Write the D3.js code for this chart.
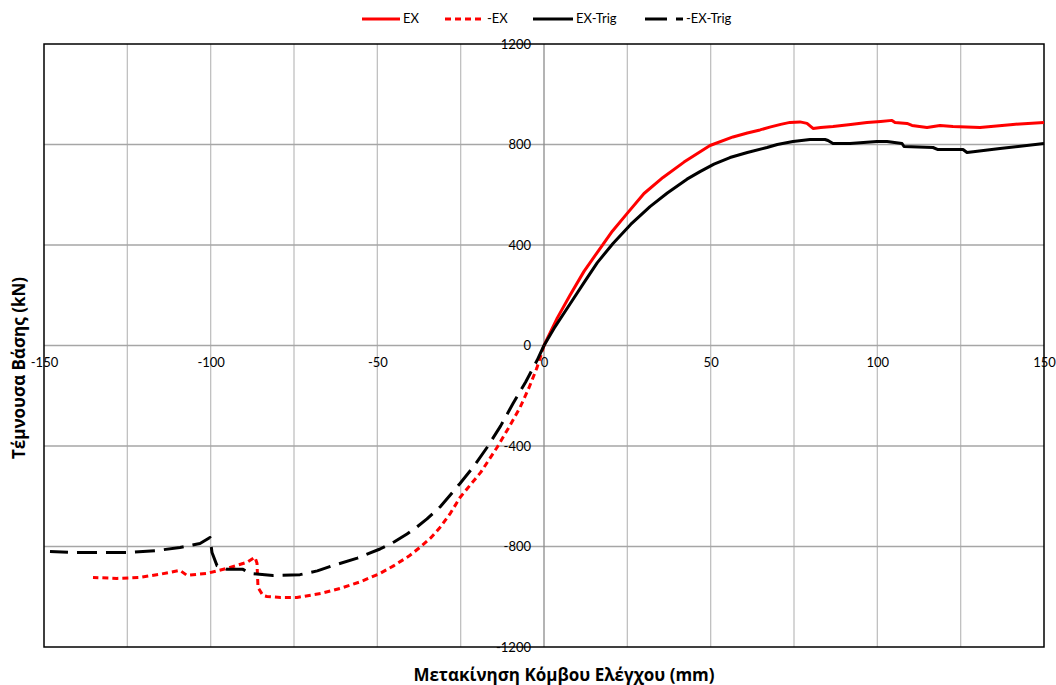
<!DOCTYPE html>
<html><head><meta charset="utf-8">
<script src="https://cdn.jsdelivr.net/npm/d3@7"></script>
<style>body{margin:0;background:#fff}svg{display:block}</style>
</head><body>
<svg id="c" width="1056" height="685"></svg>
<script>
// data (displacement mm, base shear kN)
const exX = [0,2,4,7.8,12,16.8,20.5,24.9,30,35.7,42,49.8,56.7,61,64.8,68,71,73.8,76.8,78.9,80.7,83,86.7,92,96.9,101,104.4,105.3,108.9,110.4,114.9,118.8,122.7,130.8,140.7,150];
const exY = [0,55,110,200,295,386,455,525,605,669,730,796,830,846,858,870,880,888,890,884,864,868,872,880,888,892,896,888,884,876,868,876,872,868,880,888];
const negExX = [0,-2.1,-4.5,-7.2,-10.5,-14.1,-19,-25.2,-28,-31.2,-34,-37.2,-40.5,-45,-49.2,-55,-61.2,-67,-74.1,-79,-83.1,-84.3,-85.8,-86.1,-86.7,-89.1,-95.1,-101.1,-107.1,-109.2,-115,-121.2,-128.1,-135.3];
const negExY = [0,-88,-168,-247,-325,-406,-505,-605,-666,-724,-766,-803,-838,-876,-907,-940,-967,-987,-1003,-1003,-999,-995,-963,-867,-843,-863,-887,-907,-915,-895,-910,-923,-927,-923];
const trigX = [0,3,7.8,12,16,20.7,26,31.8,37,42.9,46.8,51,55.8,61,66.9,70,74.7,79.8,84.3,85.2,86.7,91.8,99.9,102.9,107.4,108,116.7,118.2,125.7,126.9,136.8,150];
const trigY = [0,68,165,250,330,406,482,553,607,662,692,722,748,768,788,800,812,820,820,816,804,804,812,812,804,792,788,780,780,768,784,804];
const negTrigX = [0,-2.1,-5.5,-9.3,-13,-17.1,-21,-25.2,-31,-35.1,-38.1,-41.1,-45,-49.2,-56,-63.3,-68,-73.2,-81.3,-88.2,-90.3,-95.1,-98.1,-99.6,-100.2,-103.2,-109.2,-116.1,-125.1,-133.2,-141.3,-148.2];
const negTrigY = [0,-60,-145,-231,-320,-406,-480,-549,-640,-690,-722,-750,-782,-810,-846,-876,-897,-912,-915,-907,-891,-891,-876,-824,-764,-788,-804,-816,-824,-824,-824,-820];
const xTicks = [-150,-100,-50,0,50,100,150];
const yTicks = [-1200,-800,-400,0,400,800,1200];
const xGrid = [-125,-100,-75,-50,-25,25,50,75,100,125];
const yGrid = [-800,-400,400,800];
const seriesNames = ["EX","-EX","EX-Trig","-EX-Trig"];

const svg = d3.select("#c");
const L=44, R=1044, T=44, B=647;
const x = d3.scaleLinear().domain([-150,150]).range([L,R]);
const y = d3.scaleLinear().domain([-1200,1200]).range([B,T]);
const font = "Lato, Open Sans, sans-serif";
const tfont = "Open Sans, Liberation Sans, sans-serif";

// grid
svg.append("g").selectAll("line").data(xGrid).join("line")
  .attr("x1",d=>x(d)).attr("x2",d=>x(d)).attr("y1",T).attr("y2",B)
  .attr("stroke","#c0c0c0").attr("stroke-width",1.3);
svg.append("g").selectAll("line").data(yGrid).join("line")
  .attr("y1",d=>y(d)).attr("y2",d=>y(d)).attr("x1",L).attr("x2",R)
  .attr("stroke","#a6a6a6").attr("stroke-width",1.3);
// zero axes
svg.append("line").attr("x1",x(0)).attr("x2",x(0)).attr("y1",T).attr("y2",B).attr("stroke","#8c8c8c").attr("stroke-width",1.3);
svg.append("line").attr("x1",L).attr("x2",R).attr("y1",y(0)).attr("y2",y(0)).attr("stroke","#a6a6a6").attr("stroke-width",1.3);

const xa = svg.append("g").attr("transform",`translate(0,${y(0)})`)
  .call(d3.axisBottom(x).tickValues(xTicks).tickSize(0).tickPadding(12).tickFormat(d=>String(d)));
xa.select(".domain").remove();
xa.selectAll("text").attr("font-family",font).attr("font-size",13).attr("fill","#000");
const ya = svg.append("g").attr("transform",`translate(${x(0)},0)`)
  .call(d3.axisLeft(y).tickValues(yTicks).tickSize(0).tickPadding(13).tickFormat(d=>String(d)));
ya.select(".domain").remove();
ya.selectAll("text").attr("font-family",font).attr("font-size",13).attr("fill","#000");

// frame
svg.append("rect").attr("x",L).attr("y",T).attr("width",R-L).attr("height",B-T)
  .attr("fill","none").attr("stroke","#000").attr("stroke-width",1.5);

const line = d3.line().x(d=>x(d[0])).y(d=>y(d[1]));
const series = [
  {name:seriesNames[0], xs:exX, ys:exY, color:"#ff0000", dash:null},
  {name:seriesNames[1], xs:negExX, ys:negExY, color:"#ff0000", dash:"6,4"},
  {name:seriesNames[2], xs:trigX, ys:trigY, color:"#000", dash:null},
  {name:seriesNames[3], xs:negTrigX, ys:negTrigY, color:"#000", dash:"20,9"}
];
series.forEach(s=>{
  svg.append("path").datum(s.xs.map((v,i)=>[v,s.ys[i]]))
    .attr("d",line).attr("fill","none").attr("stroke",s.color).attr("stroke-width",3)
    .attr("stroke-linejoin","round")
    .attr("stroke-dasharray",s.dash);
});

// legend
const legPos = [[362,403],[445,487],[533,576],[645,686]];
series.forEach((s,i)=>{
  const [lx,tx]=legPos[i];
  svg.append("line").attr("x1",lx).attr("x2",tx-3).attr("y1",19).attr("y2",19)
    .attr("stroke",s.color).attr("stroke-width",3).attr("stroke-dasharray",s.dash? (i===1?"6,4":"22,9"):null);
  svg.append("text").attr("x",tx).attr("y",23).text(s.name)
    .attr("font-family",font).attr("font-size",13).attr("fill","#000");
});

// titles
svg.append("text").attr("x",564).attr("y",681).attr("text-anchor","middle")
  .attr("font-family",tfont).attr("font-weight","bold").attr("font-size",17)
  .text("Μετακίνηση Κόμβου Ελέγχου (mm)");
svg.append("text").attr("transform","translate(25,368) rotate(-90)").attr("text-anchor","middle")
  .attr("font-family",tfont).attr("font-weight","bold").attr("font-size",17)
  .text("Τέμνουσα Βάσης (kN)");
</script>
</body></html>
